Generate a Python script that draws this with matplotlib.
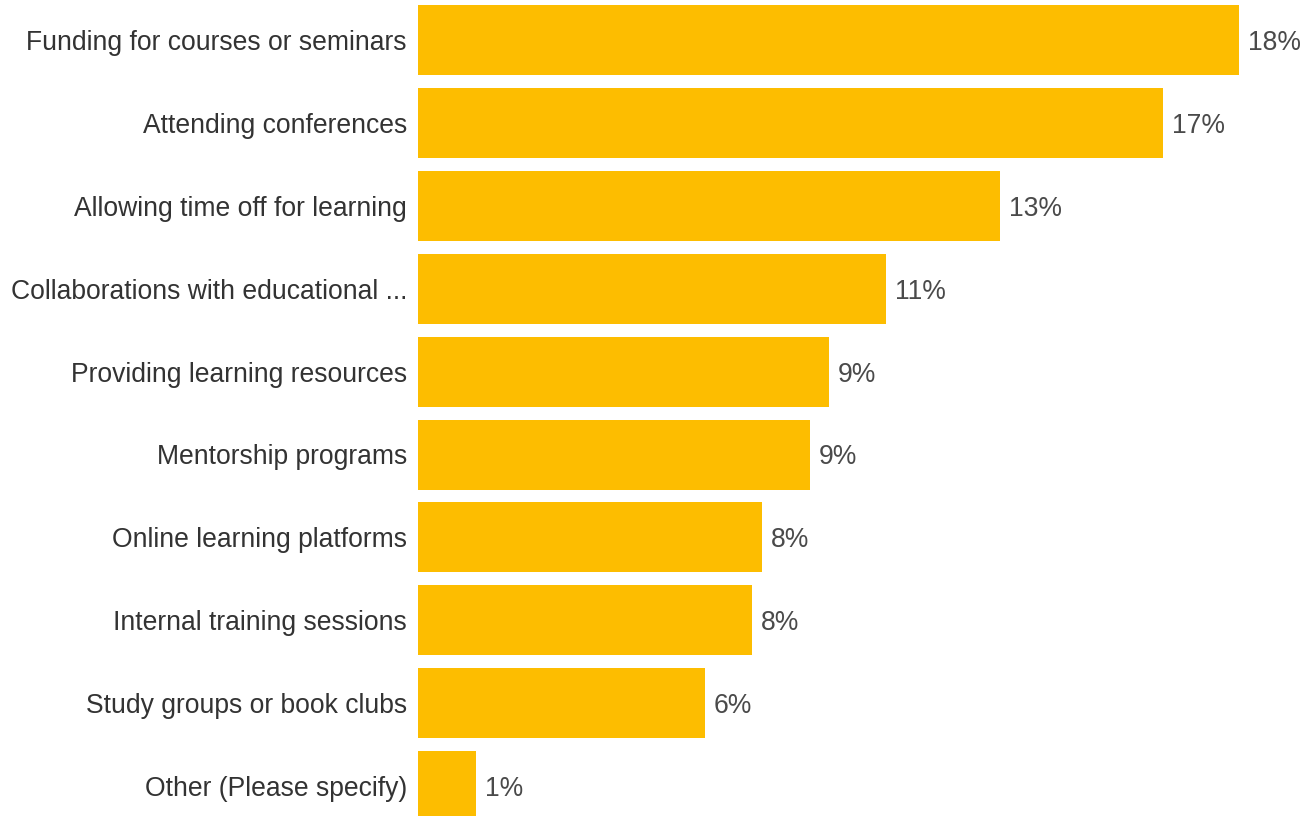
import matplotlib
matplotlib.use("Agg")
import matplotlib.pyplot as plt

categories = [
    "Funding for courses or seminars",
    "Attending conferences",
    "Allowing time off for learning",
    "Collaborations with educational ...",
    "Providing learning resources",
    "Mentorship programs",
    "Online learning platforms",
    "Internal training sessions",
    "Study groups or book clubs",
    "Other (Please specify)",
]
values = [18.45, 16.74, 13.08, 10.52, 9.24, 8.81, 7.73, 7.51, 6.45, 1.30]

BAR_COLOR = "#FDBD00"
LABEL_COLOR = "#333333"
VALUE_COLOR = "#4a4a4a"

plt.rcParams["font.family"] = ["Liberation Sans", "DejaVu Sans"]

W, H = 1312, 816
fig = plt.figure(figsize=(W / 100, H / 100), dpi=100)
left_px = 418
ax = fig.add_axes([left_px / W, 0, (W - left_px) / W, 1])

pitch = 82.9
ypos = list(range(len(categories)))
ax.barh(ypos, values, height=70 / pitch, color=BAR_COLOR, edgecolor="none")

ax.set_xlim(0, (W - left_px) / 44.5)
ax.set_ylim((H - 40) / pitch, -40 / pitch)

ax.set_yticks(ypos)
ax.set_yticklabels(categories, fontsize=19.1, color=LABEL_COLOR)
ax.tick_params(axis="y", length=0, pad=8)
ax.set_xticks([])
for s in ax.spines.values():
    s.set_visible(False)

for y, v in zip(ypos, values):
    ax.annotate(f"{v:.0f}%", xy=(v, y), xytext=(6.5, 0), textcoords="offset points",
                ha="left", va="center_baseline", fontsize=19.1, color=VALUE_COLOR)

fig.savefig("out.png", dpi=100)
